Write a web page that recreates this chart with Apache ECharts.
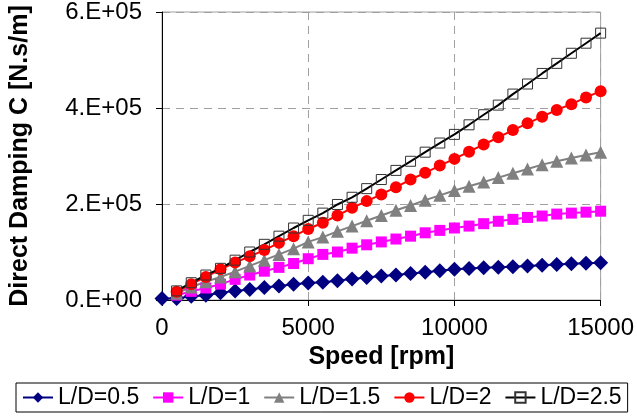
<!DOCTYPE html>
<html lang="en">
<head>
    <meta charset="UTF-8">
    <title>Direct Damping</title>
    <script type="text/javascript" src="https://cdn.jsdelivr.net/npm/echarts@6/dist/echarts.min.js"></script>
    <style>
        body { margin: 0; background: #fff; }
    </style>
</head>
<body>
    <div id="chart" style="width: 637px;height:417px;"></div>
    <script>
        // speeds [rpm]
        var speeds = [0, 500, 1000, 1500, 2000, 2500, 3000, 3500, 4000, 4500, 5000,
            5500, 6000, 6500, 7000, 7500, 8000, 8500, 9000, 9500, 10000,
            10500, 11000, 11500, 12000, 12500, 13000, 13500, 14000, 14500, 15000];
        var yTickLabels = ['0.E+00', '2.E+05', '4.E+05', '6.E+05'];
        var seriesNames = ['L/D=0.5', 'L/D=1', 'L/D=1.5', 'L/D=2', 'L/D=2.5'];
        // damping [N.s/m], L/D=0.5 starts at 0 rpm, others at 500 rpm
        var ld05 = [3000, 3000, 8000, 10000, 15000, 19000, 22000, 26000, 29000, 33000, 35500,
            37000, 40000, 44000, 47000, 50000, 52000, 55000, 58000, 61000, 64000,
            65500, 67000, 68000, 69500, 71000, 72500, 74000, 75500, 76500, 77500];
        var ld1 = [10000, 18000, 25000, 33000, 43000, 52000, 60000, 68000, 76000, 86000,
            95000, 100000, 108000, 115000, 121000, 127000, 133000, 140000, 145000, 150000,
            154000, 159000, 164000, 168000, 172000, 175000, 179000, 181000, 183000, 185000];
        var ld15 = [14000, 27000, 38000, 48000, 59000, 71000, 83000, 95000, 107000, 121000,
            131000, 143000, 154000, 165000, 176000, 187000, 197000, 208000, 218000, 228000,
            237000, 246000, 255000, 264000, 273000, 282000, 289000, 296000, 302000, 308000];
        var ld2 = [17000, 33000, 48000, 64000, 78000, 91000, 104000, 119000, 133000, 148000,
            161000, 176000, 192000, 206000, 220000, 235000, 251000, 265000, 280000, 294000,
            309000, 324000, 339000, 354000, 368000, 382000, 396000, 408000, 422000, 435000];
        var ld25 = [19000, 36000, 52000, 66000, 83000, 100000, 116000, 133000, 150000, 166000,
            181000, 199000, 214000, 232000, 251000, 270000, 289000, 308000, 327000, 345000,
            365000, 386000, 406000, 429000, 450000, 472000, 493000, 514000, 535000, 556000];

        function pairs(xs, ys) {
            var off = xs.length - ys.length;
            var out = [];
            for (var i = 0; i < ys.length; i++) out.push([xs[i + off], ys[i]]);
            return out;
        }

        var font = 'Liberation Sans, Arial, sans-serif';
        var chart = echarts.init(document.getElementById('chart'));
        var option = {
            animation: false,
            textStyle: { fontFamily: font },
            grid: {
                left: 152, right: 36, top: 11, bottom: 117,
                show: true, borderColor: '#a0a0a0', borderWidth: 1
            },
            legend: {
                data: seriesNames,
                left: 16, top: 383,
                padding: [3, 6, 3, 6],
                borderColor: '#000', borderWidth: 1,
                itemWidth: 30, itemHeight: 13, itemGap: 13,
                textStyle: { fontSize: 23, color: '#000', fontFamily: font }
            },
            xAxis: {
                type: 'value', min: 0, max: 15000, interval: 5000,
                name: 'Speed [rpm]', nameLocation: 'middle', nameGap: 42,
                nameTextStyle: { fontSize: 25, fontWeight: 'bold', color: '#000' },
                axisLine: { lineStyle: { color: '#000', width: 1 } },
                axisTick: { show: true, length: 6, lineStyle: { color: '#000' } },
                axisLabel: {
                    fontSize: 24, color: '#000', margin: 16,
                    formatter: function (v) { return String(v); }
                },
                splitLine: { show: true, lineStyle: { color: '#a0a0a0', type: [8, 6] } }
            },
            yAxis: {
                type: 'value', min: 0, max: 600000, interval: 200000,
                name: 'Direct Damping C [N.s/m]', nameLocation: 'middle', nameGap: 129,
                nameTextStyle: { fontSize: 25, fontWeight: 'bold', color: '#000' },
                axisLine: { show: true, lineStyle: { color: '#000', width: 1 } },
                axisTick: { show: true, length: 6, lineStyle: { color: '#000' } },
                axisLabel: {
                    fontSize: 24, color: '#000', margin: 20,
                    formatter: function (v) { return yTickLabels[Math.round(v / 200000)]; }
                },
                splitLine: { show: true, lineStyle: { color: '#a0a0a0', type: [8, 6] } }
            },
            series: [
                {
                    name: seriesNames[0], type: 'line', data: pairs(speeds, ld05),
                    symbol: 'diamond', symbolSize: 15,
                    itemStyle: { color: '#000080' }, lineStyle: { color: '#000080', width: 2 }
                },
                {
                    name: seriesNames[1], type: 'line', data: pairs(speeds, ld1),
                    symbol: 'rect', symbolSize: 11,
                    itemStyle: { color: '#ff00ff' }, lineStyle: { color: '#ff00ff', width: 2 }
                },
                {
                    name: seriesNames[2], type: 'line', data: pairs(speeds, ld15),
                    symbol: 'triangle', symbolSize: 13,
                    itemStyle: { color: '#808080' }, lineStyle: { color: '#808080', width: 2 }
                },
                {
                    name: seriesNames[3], type: 'line', data: pairs(speeds, ld2),
                    symbol: 'circle', symbolSize: 12,
                    itemStyle: { color: '#ff0000' }, lineStyle: { color: '#ff0000', width: 2 }
                },
                {
                    name: seriesNames[4], type: 'line', data: pairs(speeds, ld25),
                    symbol: 'rect', symbolSize: 10,
                    itemStyle: { color: 'rgba(255,255,255,0)', borderColor: '#333', borderWidth: 1 },
                    lineStyle: { color: '#000', width: 2 }
                }
            ]
        };
        chart.setOption(option);
    </script>
</body>
</html>
